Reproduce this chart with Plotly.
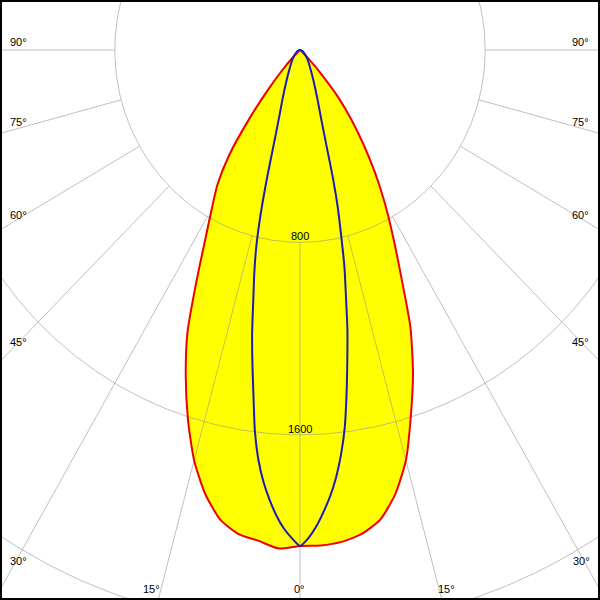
import numpy as np
import plotly.graph_objects as go

# ---- data (luminous intensity, cd) ----
gamma_red = [0, 2.5, 5, 7.5, 10, 12.5, 15, 17.5, 20, 22.5, 25, 27.5, 30, 32.5,
             35, 37.5, 40, 42.5, 45, 47.5, 50, 55, 60, 70, 80, 90]
red_c0 = [2062, 2062, 2053, 2030, 1985, 1895, 1767, 1593, 1427, 1246, 1030, 867, 730, 600,
          476, 364, 256, 140, 60, 20, 5, 0, 0, 0, 0, 0]
red_c180 = [2062, 2075, 2049, 2030, 1983, 1891, 1767, 1610, 1443, 1270, 1056, 885, 762, 664,
            533, 357, 212, 110, 50, 15, 5, 0, 0, 0, 0, 0]

gamma_blue = [0, 1, 2, 3, 4, 5, 6, 7, 8, 9, 10, 11, 12, 13, 14, 15, 16, 18, 20,
              25, 30, 35, 40, 45, 50, 60, 70, 80, 90]
blue_c90 = [2062, 2031, 1984, 1925, 1861, 1785, 1693, 1584, 1445, 1306, 1179, 1039, 924, 789,
            675, 546, 418, 288, 225, 135, 90, 66, 50, 38, 28, 17, 10, 4, 0]
blue_c270 = [2062, 2030, 1991, 1939, 1876, 1804, 1715, 1598, 1446, 1315, 1190, 1057, 950, 840,
             700, 548, 418, 288, 225, 135, 90, 66, 50, 38, 28, 17, 10, 4, 0]

grid_radii = [800, 1600, 2400]
radial_angles = [0, 15, 30, 45, 60, 75, 90]
radius_labels = ["800", "1600"]
angle_label_text = ["90°", "75°", "60°", "45°", "30°", "15°", "0°", "15°", "30°", "45°", "60°", "75°", "90°"]

# ---- layout helpers (pixel geometry of the frame) ----
W = H = 600
cx_px, cy_px = 300, 50             # pole position in pixels
sx, sy = 185.2 / 800, 192.4 / 800  # px per cd horizontally / vertically

# label centers in pixels (same order as angle_label_text)
angle_label_px = [(18, 42), (18, 122), (18, 215), (18, 342), (18, 561), (151, 589), (299, 589),
                  (446, 589), (581, 561), (580, 342), (580, 215), (580, 122), (580, 42)]


def plane_xy(gamma, left_vals, right_vals):
    g = np.radians(np.asarray(gamma, float))
    L = np.asarray(left_vals, float)
    R = np.asarray(right_vals, float)
    xl, yl = -L * np.sin(g), -L * np.cos(g)
    xr, yr = R * np.sin(g), -R * np.cos(g)
    x = np.concatenate([xl[::-1], xr[1:]])
    y = np.concatenate([yl[::-1], yr[1:]])
    keep = np.ones(len(x), bool)
    for i in range(1, len(x)):
        if abs(x[i] - x[i - 1]) < 1e-9 and abs(y[i] - y[i - 1]) < 1e-9:
            keep[i] = False
    return x[keep], y[keep]


rx, ry = plane_xy(gamma_red, red_c180, red_c0)
bx, by = plane_xy(gamma_blue, blue_c270, blue_c90)

# grid geometry
gx, gy = [], []
phi = np.radians(np.linspace(0, 360, 721))
for r in grid_radii:
    gx += list(r * np.sin(phi)) + [None]
    gy += list(-r * np.cos(phi)) + [None]
for a in radial_angles:
    for s in ([1, -1] if a else [1]):
        t = np.radians(a)
        gx += [s * grid_radii[0] * np.sin(t), s * 5000 * np.sin(t), None]
        gy += [-grid_radii[0] * np.cos(t), -5000 * np.cos(t), None]

fig = go.Figure()
fig.add_trace(go.Scatter(x=rx, y=ry, mode="lines", fill="toself", fillcolor="#ffff00",
                         line=dict(width=0, color="#ffff00", shape="spline", smoothing=0.6),
                         hoverinfo="skip", showlegend=False))
fig.add_trace(go.Scatter(x=gx, y=gy, mode="lines",
                         line=dict(width=1, color="rgba(150,150,150,0.6)"),
                         hoverinfo="skip", showlegend=False))
fig.add_trace(go.Scatter(x=rx, y=ry, mode="lines",
                         line=dict(width=2, color="#f00000", shape="spline", smoothing=0.6),
                         name="C0-C180", showlegend=False))
fig.add_trace(go.Scatter(x=bx, y=by, mode="lines",
                         line=dict(width=2, color="#1c1cb0", shape="spline", smoothing=0.6),
                         name="C90-C270", showlegend=False))

font = dict(family="Liberation Sans, Arial, sans-serif", size=11, color="black")
annotations = []
for r, lab in zip(grid_radii, radius_labels):
    annotations.append(dict(x=0, y=-r, xref="x", yref="y", text=lab, showarrow=False,
                            xanchor="center", yanchor="bottom", yshift=-2, font=font))
for lab, (px, py) in zip(angle_label_text, angle_label_px):
    annotations.append(dict(x=px / W, y=1 - py / H, xref="paper", yref="paper", text=lab,
                            showarrow=False, xanchor="center", yanchor="middle", font=font))

fig.update_layout(
    width=W, height=H, autosize=False,
    margin=dict(l=0, r=0, t=0, b=0),
    paper_bgcolor="white", plot_bgcolor="white",
    xaxis=dict(range=[-cx_px / sx, (W - cx_px) / sx], visible=False, fixedrange=True),
    yaxis=dict(range=[-(H - cy_px) / sy, cy_px / sy], visible=False, fixedrange=True),
    annotations=annotations,
    shapes=[dict(type="rect", xref="paper", yref="paper", x0=0, y0=0, x1=1, y1=1,
                 line=dict(color="black", width=4), layer="above")],
)

fig.write_html("out.html", config={"displayModeBar": False},
               post_script="document.body.style.margin='0';document.body.style.padding='0';"
                           "document.body.style.overflow='hidden';")
